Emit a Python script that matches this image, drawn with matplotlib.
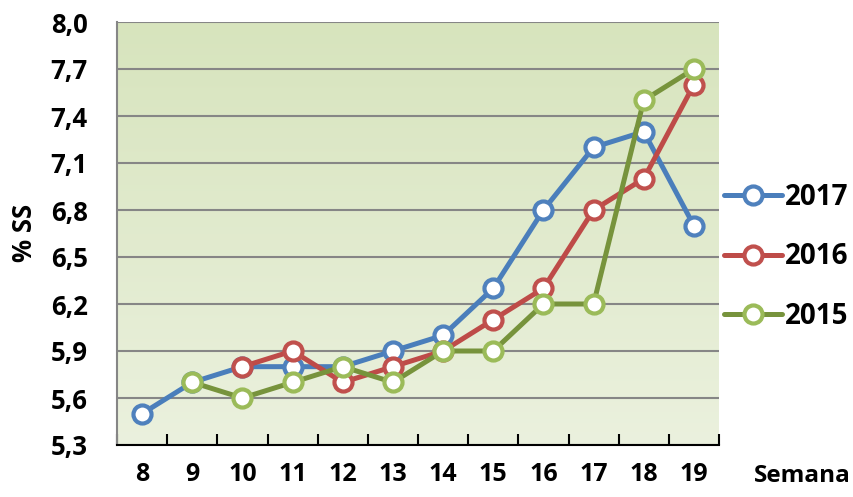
import matplotlib
matplotlib.use('Agg')
from matplotlib import pyplot as plt
from matplotlib.colors import LinearSegmentedColormap
import numpy as np

# data
weeks = [8, 9, 10, 11, 12, 13, 14, 15, 16, 17, 18, 19]
ss_2017 = [5.5, 5.7, 5.8, 5.8, 5.8, 5.9, 6.0, 6.3, 6.8, 7.2, 7.3, 6.7]
ss_2016 = [None, None, 5.8, 5.9, 5.7, 5.8, 5.9, 6.1, 6.3, 6.8, 7.0, 7.6]
ss_2015 = [None, 5.7, 5.6, 5.7, 5.8, 5.7, 5.9, 5.9, 6.2, 6.2, 7.5, 7.7]
y_ticks = [5.3, 5.6, 5.9, 6.2, 6.5, 6.8, 7.1, 7.4, 7.7, 8.0]

series = [
	('2017', ss_2017, '#4a7ebb', '#4f81bd'),
	('2016', ss_2016, '#be4b48', '#c0504d'),
	('2015', ss_2015, '#77933c', '#9bbb59'),
]

plt.rcParams['font.family'] = ['Open Sans', 'DejaVu Sans']
plt.rcParams['font.weight'] = 'bold'

fig = plt.figure(figsize=(8.54, 4.97), dpi=100)
ax = fig.add_axes([117 / 854, 1 - 445 / 497, (719 - 117) / 854, (445 - 22) / 497])

# gradient background, darker at top
cmap = LinearSegmentedColormap.from_list('bg', ['#ebf1de', '#d7e4bd'])
grad = np.linspace(0, 1, 256).reshape(-1, 1)
ax.imshow(grad, cmap=cmap, aspect='auto', origin='lower',
	extent=[0, 1, 0, 1], transform=ax.transAxes, zorder=0)

x = np.arange(len(weeks))
for name, vals, lc, mc in series:
	y = np.array([np.nan if v is None else v for v in vals])
	ax.plot(x, y, color=lc, linewidth=3.6, marker='o', markersize=13,
		markerfacecolor='white', markeredgecolor=mc, markeredgewidth=3,
		label=name, zorder=3, solid_capstyle='round')

ax.set_xlim(-0.5, len(weeks) - 0.5)
ax.set_ylim(5.3, 8.0)
ax.set_yticks(y_ticks)
ax.set_yticklabels(['{:.1f}'.format(v).replace('.', ',') for v in y_ticks])
ax.set_xticks(x)
ax.set_xticklabels([str(w) for w in weeks])
ax.set_xticks(np.arange(-0.5, len(weeks)), minor=True)
ax.tick_params(axis='x', which='major', length=0, pad=12, labelsize=18)
ax.tick_params(axis='x', which='minor', direction='in', length=8, width=1.5, color='black')
ax.tick_params(axis='y', length=0, pad=21, labelsize=18.5)

ax.grid(axis='y', color='#868686', linewidth=1.5, zorder=1)
ax.set_axisbelow(True)
for s in ['top', 'right']:
	ax.spines[s].set_visible(False)
ax.spines['left'].set_color('#868686')
ax.spines['left'].set_linewidth(1.5)
ax.spines['bottom'].set_color('black')
ax.spines['bottom'].set_linewidth(1.5)

fig.text(25 / 854, 1 - 233 / 497, '% SS', rotation=90, ha='center', va='center',
	fontsize=18.5, fontweight='bold')
fig.text(851 / 854, 1 - 476 / 497, 'Semana', ha='right', va='center',
	fontsize=17.5, fontweight='bold')

fig.legend(loc='center left', bbox_to_anchor=(713 / 854, 1 - 257 / 497),
	frameon=False, fontsize=20, handlelength=2.1, handletextpad=0.1,
	labelspacing=1.1, borderaxespad=0)

plt.savefig('out.png', dpi=100)
